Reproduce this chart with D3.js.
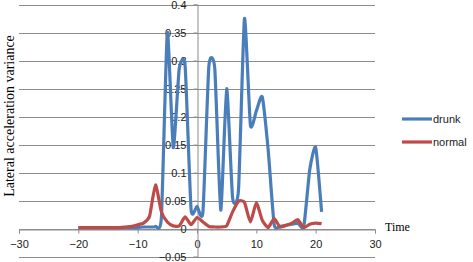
<!DOCTYPE html>
<head>
    <meta charset="utf-8">
    <style>
        body { margin: 0; background: #fff; }
        .grid line { stroke: #8c8c8c; stroke-width: 1; }
        .tick text { font-family: "Liberation Sans", Arial, sans-serif; font-size: 11px; fill: #222; }
        .lineDrunk { fill: none; stroke: #4a7ebb; stroke-width: 3.2; }
        .lineNormal { fill: none; stroke: #be4b48; stroke-width: 3.2; }
    </style>
</head>
<body>
<div id="graph"></div>
</body>

<script src="https://d3js.org/d3.v7.min.js"></script>
<script>

    // time steps
    var times = [-20,-19,-18,-17,-16,-15,-14,-13,-12,-11,-10,-9,-8,-7,-6,-5,-4,-3,-2,-1,
                 0,1,2,3,4,5,6,7,8,9,10,11,12,13,14,15,16,17,18,19,20,21];

    var drunk = [0.002,0.002,0.002,0.002,0.002,0.002,0.002,0.002,0.002,0.002,0.002,0.003,0.003,0.004,0.02,0.35,0.145,0.285,0.29,0.035,
                 0.04,0.03,0.29,0.285,0.033,0.25,0.055,0.07,0.375,0.185,0.21,0.235,0.14,0.008,0.004,0.006,0.008,0.01,0.004,0.105,0.145,0.03];

    var normal = [0.002,0.002,0.002,0.002,0.002,0.002,0.002,0.002,0.003,0.004,0.007,0.01,0.022,0.078,0.03,0.012,0.005,0.005,0.021,0.007,
                  0.02,0.012,0.004,0.003,0.003,0.005,0.03,0.049,0.047,0.012,0.046,0.015,0.002,0.018,0.003,0.006,0.01,0.016,0.002,0.008,0.01,0.009];

    var xTicks = [-30,-20,-10,0,10,20,30];
    var yTicks = [-0.05,0,0.05,0.1,0.15,0.2,0.25,0.3,0.35,0.4];

    var width = 473, height = 262;

    var xScale = d3.scaleLinear().domain([-30, 30]).range([19, 375]);
    var yScale = d3.scaleLinear().domain([-0.05, 0.4]).range([256.7, 4.5]);

    var svg = d3.select("#graph").append("svg")
        .attr("width", width)
        .attr("height", height);

    // horizontal gridlines
    svg.append("g")
        .attr("class", "grid")
        .selectAll("line")
        .data(yTicks)
        .enter().append("line")
        .attr("x1", xScale(-30))
        .attr("x2", xScale(30))
        .attr("y1", function(d) { return Math.round(yScale(d)) + 0.5; })
        .attr("y2", function(d) { return Math.round(yScale(d)) + 0.5; });

    // x axis sits on y = 0
    var xAxis = svg.append("g")
        .attr("transform", "translate(0," + (Math.round(yScale(0)) + 0.5) + ")")
        .call(d3.axisBottom(xScale).tickValues(xTicks).tickSize(4).tickPadding(7).tickFormat(d3.format("d")));
    xAxis.select(".domain").attr("stroke", "#8c8c8c");
    xAxis.selectAll(".tick line").attr("stroke", "#8c8c8c");

    // y axis sits on x = 0
    var yAxis = svg.append("g")
        .attr("transform", "translate(" + (Math.round(xScale(0)) + 0.5) + ",0)")
        .call(d3.axisLeft(yScale).tickValues(yTicks).tickSize(4).tickPadding(7)
            .tickFormat(function(d) { return d3.format("")(+d.toFixed(2)); }));
    yAxis.select(".domain").attr("stroke", "#8c8c8c");
    yAxis.selectAll(".tick line").attr("stroke", "#8c8c8c");

    var line = function(values) {
        return d3.line()
            .x(function(d, i) { return xScale(times[i]); })
            .y(function(d) { return yScale(d); })
            .curve(d3.curveCardinal.tension(0.45))(values);
    };

    svg.append("path").attr("class", "lineDrunk").attr("d", line(drunk));
    svg.append("path").attr("class", "lineNormal").attr("d", line(normal));

    // axis titles
    svg.append("text")
        .attr("transform", "translate(14,116) rotate(-90)")
        .attr("text-anchor", "middle")
        .style("font-family", "'Liberation Serif', 'Times New Roman', serif")
        .style("font-size", "14px")
        .text("Lateral acceleration variance");

    svg.append("text")
        .attr("x", 385).attr("y", 231)
        .style("font-family", "'Liberation Serif', 'Times New Roman', serif")
        .style("font-size", "12px")
        .text("Time");

    // legend
    var legend = [["drunk", "lineDrunk", 119], ["normal", "lineNormal", 142]];
    legend.forEach(function(l) {
        svg.append("line").attr("class", l[1])
            .attr("x1", 402).attr("x2", 432).attr("y1", l[2]).attr("y2", l[2]);
        svg.append("text")
            .attr("x", 433).attr("y", l[2] + 4)
            .style("font-family", "'Liberation Sans', Arial, sans-serif")
            .style("font-size", "11px")
            .style("fill", "#222")
            .text(l[0]);
    });

</script>
